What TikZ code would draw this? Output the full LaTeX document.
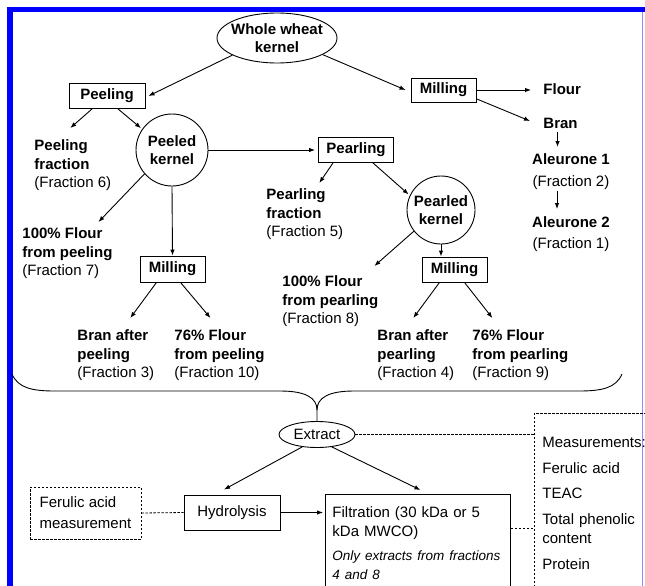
\documentclass[tikz,border=0pt]{standalone}
\usepackage{fontspec}
\setmainfont{Liberation Sans}
\usetikzlibrary{shapes.geometric,arrows.meta}

\begin{document}
\begin{tikzpicture}[x=1pt, y=-1pt, line width=0.9pt,
    >={Latex[length=6pt,width=4.5pt]},
    every node/.style={font=\fontsize{15}{18.5}\selectfont},
    boite/.style={draw, rectangle, inner sep=0pt, minimum height=25pt, font=\fontsize{15}{18.5}\selectfont\bfseries},
    noyau/.style={draw, circle, inner sep=0pt, align=center, font=\fontsize{15}{18}\selectfont\bfseries},
    produit/.style={anchor=north west, inner sep=0pt, align=left, font=\fontsize{15}{18.5}\selectfont\bfseries},
    pointille/.style={dash pattern=on 2.5pt off 1.5pt, line width=0.8pt}]

    \useasboundingbox (0,0) rectangle (645,586);
    \clip (0,0) rectangle (645,586);

    % Cadre bleu
    \fill[blue] (7,7) rectangle (645,12.5);
    \fill[blue] (7,7) rectangle (12.5,586);
    \draw[blue!45, line width=1pt] (642.5,12.5) -- (642.5,586);

    % Noeuds du haut
    \node[draw, ellipse, minimum width=120pt, minimum height=50pt, inner xsep=-5pt, inner ysep=0pt, align=center, font=\fontsize{15}{18}\selectfont\bfseries] (ble) at (277,38) {Whole wheat\\kernel};
    \node[boite, minimum width=76pt] (peeling) at (107,96) {Peeling};
    \node[boite, minimum width=65pt, minimum height=24pt] (mill0) at (443.5,90) {Milling};
    \node[anchor=west, inner sep=0pt, font=\fontsize{15}{18.5}\selectfont\bfseries] (flour) at (543,89) {Flour};
    \node[anchor=west, inner sep=0pt, font=\fontsize{15}{18.5}\selectfont\bfseries] (bran) at (543,123) {Bran};
    \node[produit, anchor=north, align=center] (al1) at (571,153.5) {Aleurone 1\\[3.5pt]{\mdseries (Fraction 2)}};
    \node[produit, anchor=north, align=center] (al2) at (571,216.5) {Aleurone 2\\[2.5pt]{\mdseries (Fraction 1)}};

    % Branche peeling
    \node[produit] (pfrac) at (34,139.5) {Peeling\\fraction\\{\mdseries (Fraction 6)}};
    \node[noyau, minimum size=72pt] (peeled) at (172,150) {Peeled\\kernel};
    \node[produit] (flourpeel) at (22,227.5) {100\% Flour\\from peeling\\{\mdseries (Fraction 7)}};
    \node[boite, minimum width=65pt, minimum height=26pt] (mill1) at (172.5,269) {Milling};
    \node[produit] (branpeel) at (77,329.5) {Bran after\\peeling\\{\mdseries (Fraction 3)}};
    \node[produit] (flpeel) at (174,329.5) {76\% Flour\\from peeling\\{\mdseries (Fraction 10)}};

    % Branche pearling
    \node[boite, minimum width=75pt] (pearling) at (356,150) {Pearling};
    \node[produit] (pearlfrac) at (266,188.5) {Pearling\\fraction\\{\mdseries (Fraction 5)}};
    \node[noyau, minimum size=68pt] (pearled) at (441,210) {Pearled\\kernel};
    \node[produit] (flourpearl) at (282,275.5) {100\% Flour\\from pearling\\{\mdseries (Fraction 8)}};
    \node[boite, minimum width=65pt] (mill2) at (454.5,269.5) {Milling};
    \node[produit] (branpearl) at (377,329.5) {Bran after\\pearling\\{\mdseries (Fraction 4)}};
    \node[produit] (flpearl) at (472,329.5) {76\% Flour\\from pearling\\{\mdseries (Fraction 9)}};

    % Noeuds du bas
    \node[draw, ellipse, minimum width=76pt, minimum height=26pt, inner sep=0pt] (extract) at (317,434.5) {Extract};
    \node[draw, pointille, anchor=north west, text width=200pt, inner xsep=8pt, inner ysep=24pt, align=left, font=\fontsize{15}{19}\selectfont] (meas) at (534,413)
        {Measurements:\\[6.5pt]Ferulic acid\\[6.5pt]TEAC\\[7pt]Total phenolic\\content\\[7pt]Protein};
    \node[draw, pointille, minimum width=111pt, minimum height=52pt, inner sep=0pt, align=left] (fam) at (85.5,513) {Ferulic acid\\[2.5pt]measurement};
    \node[draw, rectangle, minimum width=96pt, minimum height=35pt, inner sep=0pt] (hydro) at (232,512.5) {Hydrolysis};
    \node[draw, anchor=north west, text width=171pt, inner xsep=7pt, inner ysep=12pt, align=left, font=\fontsize{15}{19}\selectfont] (filt) at (325,494)
        {Filtration (30 kDa or 5\\kDa MWCO)\\[5pt]{\fontsize{13.5}{19}\selectfont\itshape Only extracts from fractions}\\{\fontsize{13.5}{19}\selectfont\itshape 4 and 8}};

    % Flèches du haut
    \draw[->] (ble.201) -- ([xshift=3pt]peeling.east);
    \draw[->] (ble.-20) -- ([xshift=-5pt]mill0.west);
    \draw[->] (mill0.east) -- ([xshift=-12pt]flour.west |- mill0.east);
    \draw[->] (mill0.-15) -- ([xshift=-13pt, yshift=2pt]bran.west);
    \draw[->, shorten <=3.5pt, shorten >=6.5pt] ([xshift=-3pt]bran.south) -- ([xshift=-3pt]bran.south |- al1.north);
    \draw[->, shorten <=1pt, shorten >=7.5pt] ([xshift=-14pt]al1.south) -- ([xshift=-14pt]al2.north);

    % Flèches peeling
    \draw[->] ([xshift=-15pt]peeling.south) -- ([xshift=-2.5pt, yshift=11.5pt]pfrac.north);
    \draw[->, shorten >=1.5pt] ([xshift=11pt]peeling.south) -- (peeled.145);
    \draw[->, shorten >=3pt] (peeled.east) -- (pearling.west);
    \draw[->] (peeled.221) -- ([xshift=31pt, yshift=5.5pt]flourpeel.north);
    \draw[->] (peeled.south) -- (mill1.north);
    \draw[->] ([xshift=-16pt]mill1.south) -- ([xshift=14.5pt, yshift=11.5pt]branpeel.north);
    \draw[->] ([xshift=8pt]mill1.south) -- ([xshift=-9pt, yshift=11.5pt]flpeel.north);

    % Flèches pearling
    \draw[->] ([xshift=-23pt]pearling.south) -- ([xshift=14.5pt, yshift=5.5pt]pearlfrac.north);
    \draw[->, shorten >=1.5pt] ([xshift=17pt]pearling.south) -- (pearled.155);
    \draw[->] (pearled.218) -- ([xshift=44pt, yshift=9.5pt]flourpearl.north);
    \draw[->] (pearled.south) -- (pearled.south |- mill2.north);
    \draw[->] ([xshift=-15pt]mill2.south) -- ([xshift=-2.5pt, yshift=11.5pt]branpearl.north);
    \draw[->] ([xshift=10pt]mill2.south) -- ([xshift=-28pt, yshift=11.5pt]flpearl.north);

    % Accolade
    \coordinate (accg) at (12,374);
    \coordinate (accd) at (622,374);
    \draw (accg) .. controls (18,388) and (32,391) .. (55,391) -- (280,391) .. controls (306,391) and (317,398) .. (317,410) -- (extract.north);
    \draw (accd) .. controls (616,388) and (602,391) .. (579,391) -- (354,391) .. controls (328,391) and (317,398) .. (317,410);

    % Flèches du bas
    \draw[->] (extract.220) -- ([xshift=-8pt, yshift=5pt]hydro.north);
    \draw[->] (extract.-40) -- ([xshift=2.5pt, yshift=4pt]filt.north);
    \draw[->, shorten >=2pt] (hydro.east) -- (hydro.east -| filt.west);
    \draw[pointille] (fam.east) -- (hydro.west);
    \draw[pointille] (extract.east) -- (extract.east -| meas.west);
    \draw[pointille] ([yshift=-34pt]filt.north east) -- ([yshift=-34pt]filt.north east -| meas.west);

\end{tikzpicture}
\end{document}
